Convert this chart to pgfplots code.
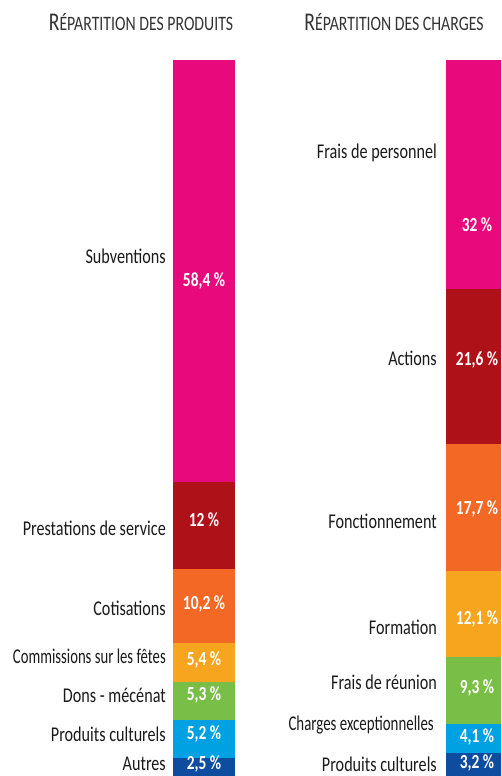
\documentclass[border=0pt]{standalone}
\usepackage{graphicx}
\usepackage{pgfplots}
\pgfplotsset{compat=1.18}
\usepackage{fontspec}
\setmainfont{Carlito}
\newfontfamily\labfont[FakeStretch=0.77]{Carlito}
\definecolor{cpink}{HTML}{E8097C}
\definecolor{cdred}{HTML}{AF1118}
\definecolor{corange}{HTML}{F26824}
\definecolor{camber}{HTML}{F7A51E}
\definecolor{cgreen}{HTML}{79BF47}
\definecolor{clblue}{HTML}{00A1E2}
\definecolor{cdblue}{HTML}{0D4C9F}
\definecolor{ctext}{HTML}{1A1A1A}
\definecolor{ctitle}{HTML}{333333}
\pgfplotsset{
  baseax/.style={
    scale only axis, width=62pt, height=716pt,
    axis lines=none, clip=false,
    xmin=-0.5, xmax=0.5, ymin=0,
    anchor=south west,
  },
  barax/.style={baseax, ybar stacked, bar width=62pt},
}
\tikzset{
  lab/.style={anchor=east, font=\labfont\fontsize{21}{24}\selectfont, text=ctext, inner sep=0pt},
  pct/.style={anchor=center, font=\labfont\bfseries\fontsize{20}{24}\selectfont, text=white, inner sep=0pt},
}
\begin{document}
\begin{tikzpicture}[x=1pt,y=1pt]
\useasboundingbox (0,0) rectangle (501,776);
\clip (0,0) rectangle (501,776);
\node[ctitle, font=\labfont\fontsize{25.5}{28}\selectfont] at (141,754) {R{\fontsize{20.5}{24}\selectfont ÉPARTITION DES PRODUITS}};
\node[ctitle, font=\labfont\fontsize{25.5}{28}\selectfont] at (394,754) {R{\fontsize{20.5}{24}\selectfont ÉPARTITION DES CHARGES}};
% Left: produits (sum 99)
\begin{axis}[barax, at={(173pt,0pt)}, ymax=99]
\addplot[fill=cdblue, draw=none] coordinates {(0,2.5)};
\addplot[fill=clblue, draw=none] coordinates {(0,5.2)};
\addplot[fill=cgreen, draw=none] coordinates {(0,5.3)};
\addplot[fill=camber, draw=none] coordinates {(0,5.4)};
\addplot[fill=corange, draw=none] coordinates {(0,10.2)};
\addplot[fill=cdred, draw=none] coordinates {(0,12)};
\addplot[fill=cpink, draw=none] coordinates {(0,58.4)};
\node[lab] at (axis cs:-0.5,71.8) [xshift=-7pt] {Subventions};
\node[lab] at (axis cs:-0.5,34.3) [xshift=-7pt] {Prestations de service};
\node[lab] at (axis cs:-0.5,23.2) [xshift=-7pt] {Cotisations};
\node[lab] at (axis cs:-0.5,16.6) [xshift=-7pt] {\scalebox{0.91}[1]{Commissions sur les fêtes}};
\node[lab] at (axis cs:-0.5,11.2) [xshift=-7pt] {Dons - mécénat};
\node[lab] at (axis cs:-0.5,5.8) [xshift=-7pt] {Produits culturels};
\node[lab] at (axis cs:-0.5,1.65) [xshift=-7pt] {Autres};
\end{axis}
\begin{axis}[baseax, at={(173pt,0pt)}, ymax=99]
\node[pct] at (axis cs:0,68.4) {58,4 \%};
\node[pct] at (axis cs:0,35.5) {12 \%};
\node[pct] at (axis cs:0,23.8) {10,2 \%};
\node[pct] at (axis cs:0,16.0) {5,4 \%};
\node[pct] at (axis cs:0,11.2) {5,3 \%};
\node[pct] at (axis cs:0,5.8) {5,2 \%};
\node[pct] at (axis cs:0,1.6) {2,5 \%};
\end{axis}
% Right: charges (sum 100)
\begin{axis}[barax, at={(446pt,0pt)}, ymax=100]
\addplot[fill=cdblue, draw=none] coordinates {(0,3.2)};
\addplot[fill=clblue, draw=none] coordinates {(0,4.1)};
\addplot[fill=cgreen, draw=none] coordinates {(0,9.3)};
\addplot[fill=camber, draw=none] coordinates {(0,12.1)};
\addplot[fill=corange, draw=none] coordinates {(0,17.7)};
\addplot[fill=cdred, draw=none] coordinates {(0,21.6)};
\addplot[fill=cpink, draw=none] coordinates {(0,32)};
\node[lab] at (axis cs:-0.5,87.0) [xshift=-9pt] {Frais de personnel};
\node[lab] at (axis cs:-0.5,58.4) [xshift=-9pt] {Actions};
\node[lab] at (axis cs:-0.5,35.5) [xshift=-9pt] {Fonctionnement};
\node[lab] at (axis cs:-0.5,20.7) [xshift=-9pt] {Formation};
\node[lab] at (axis cs:-0.5,13.1) [xshift=-9pt] {Frais de réunion};
\node[lab] at (axis cs:-0.5,7.1) [xshift=-12pt] {\scalebox{0.92}[1]{Charges exceptionnelles}};
\node[lab] at (axis cs:-0.5,1.6) [xshift=-9pt] {Produits culturels};
\end{axis}
\begin{axis}[baseax, at={(446pt,0pt)}, ymax=100]
\node[pct] at (axis cs:0,77.0) {32 \%};
\node[pct] at (axis cs:0,58.1) {21,6 \%};
\node[pct] at (axis cs:0,37.3) {17,7 \%};
\node[pct] at (axis cs:0,21.9) {12,1 \%};
\node[pct] at (axis cs:0,12.3) {9,3 \%};
\node[pct] at (axis cs:0,5.4) {4,1 \%};
\node[pct] at (axis cs:0,1.8) {3,2 \%};
\end{axis}
\end{tikzpicture}
\end{document}
